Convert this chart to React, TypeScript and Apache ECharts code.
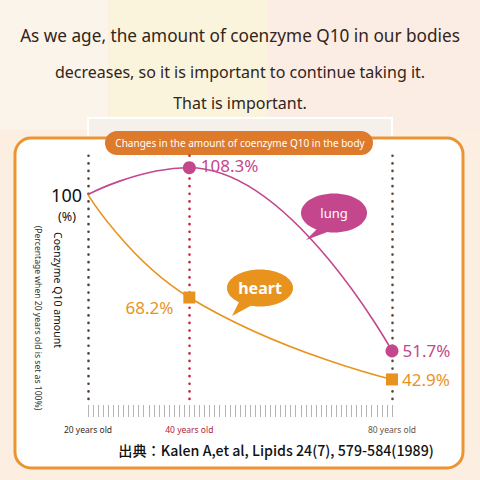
import React, { useEffect, useRef } from 'react';
import * as echarts from 'echarts';

const ages = [20, 40, 80];
const ageLabels = ['20 years old', '40 years old', '80 years old'];
const lungValues = [100, 108.3, 51.7];
const heartValues = [100, 68.2, 42.9];
const seriesNames = ['lung', 'heart'];
const headline = [
  'As we age, the amount of coenzyme Q10 in our bodies',
  'decreases, so it is important to continue taking it.',
  'That is important.',
];
const chartTitle = 'Changes in the amount of coenzyme Q10 in the body';
const yTitle = 'Coenzyme Q10 amount';
const ySub = '(Percentage when 20 years old is set as 100%)';
const yUnit = '(%)';
const sourceText = '出典：Kalen A,et al, Lipids 24(7), 579-584(1989)';

const LUNG = '#c4478d';
const HEART = '#e8931e';
const FONT = '"Noto Sans", "Noto Sans CJK JP", sans-serif';

export default function App() {
  const ref = useRef<HTMLDivElement>(null);
  useEffect(() => {
    document.body.style.margin = '0';
    const chart = echarts.init(ref.current!, null, { renderer: 'svg' });

    const labelBase = { show: true, fontSize: 17, fontFamily: FONT, formatter: (p: any) => p.value[1] + '%' };
    const lungLabels = [
      { show: false },
      { ...labelBase, position: 'right', distance: 5, offset: [0, -2], color: LUNG },
      { ...labelBase, position: 'right', distance: 4, color: LUNG },
    ];
    const heartLabels = [
      { show: false },
      { ...labelBase, position: 'left', distance: 10, offset: [0, 10], color: HEART },
      { ...labelBase, position: 'right', distance: 4, color: HEART },
    ];
    const lungData = ages.map((a, i) => ({
      value: [a, lungValues[i]],
      symbol: i === 0 ? 'none' : 'circle',
      label: lungLabels[i],
    }));
    const heartData = ages.map((a, i) => ({
      value: [a, heartValues[i]],
      symbol: i === 0 ? 'none' : 'rect',
      label: heartLabels[i],
    }));

    const dotted = (color: string) => ({ type: [0.1, 7.5], width: 2.6, color, cap: 'round' });
    const guideColors = ['#4f4038', '#c8203c', '#5a4636'];
    const guideLines = ages.map((a, i) => [
      { coord: [a, 112], lineStyle: dotted(guideColors[i]) },
      { coord: [a, 35] },
    ]);

    const option: any = {
      animation: false,
      grid: { left: 88, right: 88, top: 146, bottom: 75 },
      xAxis: {
        type: 'value',
        min: 20,
        max: 80,
        interval: 1,
        axisLine: { show: false },
        splitLine: { show: false },
        axisTick: { show: true, length: 12, lineStyle: { color: '#b4b4b4', width: 1 } },
        axisLabel: {
          margin: 20,
          formatter: (v: number) => {
            const i = ages.indexOf(v);
            if (i < 0) return '';
            return '{l' + i + '|' + ageLabels[i] + '}';
          },
          rich: {
            l0: { color: '#3a2a22', fontSize: 8.5, fontFamily: FONT },
            l1: { color: '#b01c3a', fontSize: 8.5, fontFamily: FONT },
            l2: { color: '#6a5246', fontSize: 8.5, fontFamily: FONT },
          },
        },
      },
      yAxis: {
        type: 'value',
        min: 35,
        max: 115,
        interval: 5,
        axisLine: { show: false },
        axisTick: { show: false },
        splitLine: { show: false },
        axisLabel: {
          margin: 6,
          color: '#111',
          fontSize: 18,
          fontFamily: FONT,
          formatter: (v: number) => (v === 100 ? '100' : ''),
        },
      },
      graphic: {
        elements: [
          { type: 'rect', z: -10, shape: { x: 0, y: 0, width: 480, height: 480 }, style: { fill: '#fcefe2' } },
          { type: 'rect', z: -9, shape: { x: 0, y: 0, width: 108, height: 130 }, style: { fill: '#fbf4ea' } },
          { type: 'rect', z: -9, shape: { x: 110, y: 0, width: 157, height: 130 }, style: { fill: '#faf4dc' } },
          { type: 'rect', z: -9, shape: { x: 269, y: 0, width: 211, height: 130 }, style: { fill: '#fbede3' } },
          { type: 'rect', z: -8, shape: { x: 88, y: 118, width: 304, height: 30 }, style: { fill: '#f5f1ea', stroke: '#ffffff', lineWidth: 2 } },
          { type: 'rect', z: -7, shape: { x: 15, y: 138, width: 448, height: 330, r: 16 }, style: { fill: '#ffffff', stroke: '#ec9432', lineWidth: 3 } },
          { type: 'rect', z: -6, shape: { x: 105, y: 131, width: 268, height: 24, r: 12 }, style: { fill: '#dd7a2c' } },
          { type: 'text', z: -5, x: 240, y: 143, style: { text: chartTitle, fill: '#ffffff', fontSize: 10, fontFamily: FONT, textAlign: 'center', textVerticalAlign: 'middle' } },
          ...headline.map((t, i) => ({
            type: 'text', z: -5, x: 240, y: [35, 72, 103][i],
            style: { text: t, fill: '#33241a', fontSize: [17.2, 16, 16][i], fontFamily: FONT, textAlign: 'center', textVerticalAlign: 'middle' },
          })),
          { type: 'text', z: -5, x: 67, y: 216, style: { text: yUnit, fill: '#111', fontSize: 12.5, fontFamily: FONT, textAlign: 'center', textVerticalAlign: 'middle' } },
          { type: 'text', z: -5, x: 58, y: 290, rotation: -Math.PI / 2, style: { text: yTitle, fill: '#111', fontSize: 10.5, fontFamily: FONT, textAlign: 'center', textVerticalAlign: 'middle' } },
          { type: 'text', z: -5, x: 38, y: 318, rotation: -Math.PI / 2, style: { text: ySub, fill: '#333', fontSize: 8.6, fontFamily: FONT, textAlign: 'center', textVerticalAlign: 'middle' } },
          { type: 'text', z: -5, x: 276, y: 450, style: { text: sourceText, fill: '#111', fontSize: 14.2, fontWeight: 500, fontFamily: '"Noto Sans CJK JP", "Noto Sans", sans-serif', textAlign: 'center', textVerticalAlign: 'middle' } },
          // speech bubbles
          { type: 'polygon', z: 20, shape: { points: [[318, 228], [306, 240], [330, 231]] }, style: { fill: LUNG } },
          { type: 'ellipse', z: 20, shape: { cx: 334, cy: 213, rx: 33, ry: 19.5 }, style: { fill: LUNG } },
          { type: 'text', z: 21, x: 334, y: 213, style: { text: seriesNames[0], fill: '#fff', fontSize: 13, fontFamily: FONT, textAlign: 'center', textVerticalAlign: 'middle' } },
          { type: 'polygon', z: 20, shape: { points: [[240, 300], [232, 316], [254, 304]] }, style: { fill: HEART } },
          { type: 'ellipse', z: 20, shape: { cx: 260, cy: 288, rx: 33, ry: 18.5 }, style: { fill: HEART } },
          { type: 'text', z: 21, x: 260, y: 288, style: { text: seriesNames[1], fill: '#fff', fontSize: 16, fontWeight: 'bold', fontFamily: FONT, textAlign: 'center', textVerticalAlign: 'middle' } },
        ],
      },
      series: [
        {
          name: seriesNames[0],
          type: 'line',
          data: lungData,
          smooth: 0.5,
          smoothMonotone: 'x',
          symbolSize: 13,
          lineStyle: { color: LUNG, width: 1.6 },
          itemStyle: { color: LUNG },
          z: 5,
        },
        {
          name: seriesNames[1],
          type: 'line',
          data: heartData,
          smooth: 0.5,
          symbolSize: 12,
          lineStyle: { color: HEART, width: 1.6 },
          itemStyle: { color: HEART },
          z: 5,
          markLine: {
            silent: true,
            symbol: 'none',
            label: { show: false },
            data: guideLines,
          },
        },
      ],
    };
    chart.setOption(option);
    return () => chart.dispose();
  }, []);
  return <div ref={ref} style={{ width: 480, height: 480 }} />;
}
